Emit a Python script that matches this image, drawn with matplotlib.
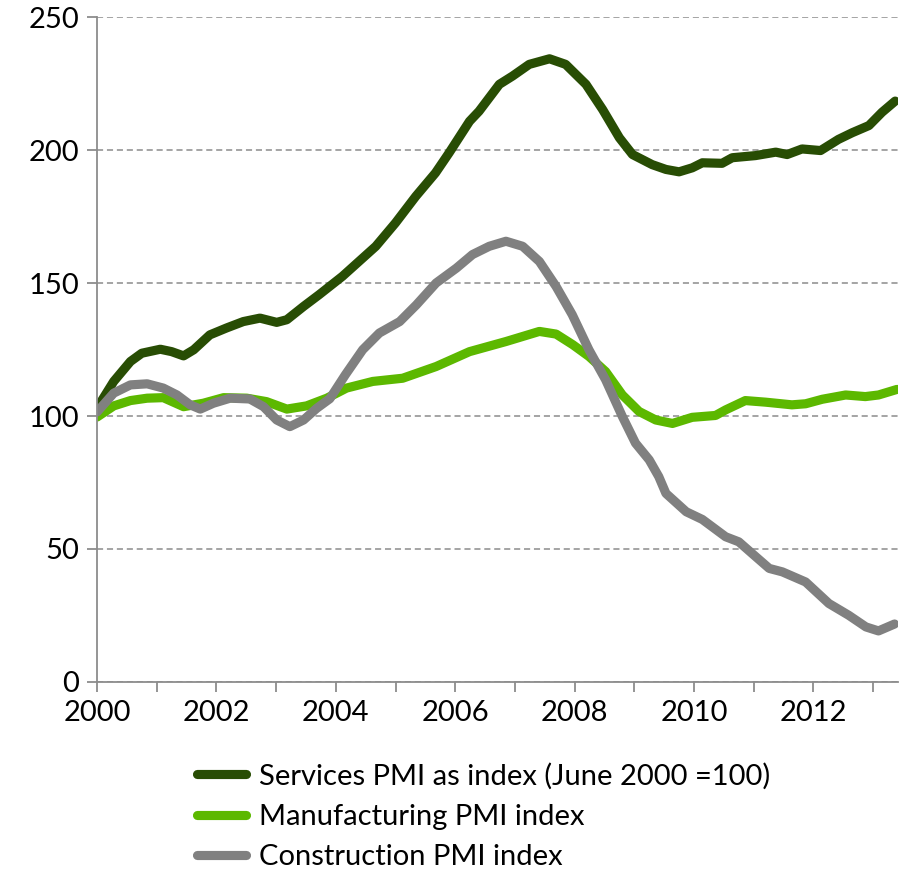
import matplotlib.pyplot as plt
from matplotlib.ticker import MultipleLocator

plt.rcParams['font.family'] = ['Lato', 'DejaVu Sans']

# Services PMI as index (June 2000 = 100)
svc_x = [2000.00, 2000.28, 2000.56, 2000.75, 2001.06, 2001.25, 2001.45, 2001.62,
         2001.89, 2002.17, 2002.45, 2002.73, 2003.01, 2003.18, 2003.46, 2003.72,
         2004.11, 2004.67, 2005.00, 2005.34, 2005.67, 2005.90, 2006.24, 2006.40,
         2006.74, 2006.96, 2007.24, 2007.58, 2007.85, 2008.19, 2008.47, 2008.75,
         2008.97, 2009.30, 2009.53, 2009.75, 2009.97, 2010.14, 2010.47, 2010.64,
         2011.03, 2011.37, 2011.56, 2011.81, 2012.12, 2012.42, 2012.65, 2012.93,
         2013.15, 2013.37]
svc_y = [102.9, 113.0, 120.5, 123.6, 125.1, 124.2, 122.6, 124.9,
         130.5, 133.1, 135.5, 136.8, 135.2, 136.2, 141.2, 145.6,
         152.5, 163.8, 172.6, 182.6, 191.4, 199.0, 210.8, 214.6,
         224.7, 227.8, 232.2, 234.3, 232.2, 224.7, 215.2, 204.6,
         198.3, 194.5, 192.7, 191.8, 193.3, 195.2, 195.0, 197.1,
         197.9, 199.2, 198.3, 200.4, 199.8, 204.0, 206.5, 209.2,
         214.2, 218.4]

# Manufacturing PMI index
mfg_x = [2000.00, 2000.28, 2000.56, 2000.84, 2001.11, 2001.45, 2001.78, 2002.12,
         2002.51, 2002.84, 2003.18, 2003.51, 2003.85, 2004.18, 2004.62, 2005.12,
         2005.68, 2006.24, 2006.85, 2007.41, 2007.69, 2007.97, 2008.24, 2008.52,
         2008.80, 2009.08, 2009.36, 2009.64, 2009.97, 2010.36, 2010.53, 2010.86,
         2011.20, 2011.64, 2011.87, 2012.15, 2012.54, 2012.87, 2013.09, 2013.40]
mfg_y = [99.6, 103.8, 105.8, 106.7, 106.9, 103.5, 104.8, 106.9,
         106.7, 105.4, 102.6, 103.8, 106.7, 110.5, 113.0, 114.2,
         118.6, 124.2, 128.0, 131.8, 130.8, 126.8, 122.4, 116.7,
         107.9, 101.7, 98.5, 97.2, 99.5, 100.2, 102.3, 105.8,
         105.2, 104.2, 104.6, 106.3, 107.9, 107.3, 107.9, 110.0]

# Construction PMI index
con_x = [2000.00, 2000.28, 2000.56, 2000.84, 2001.11, 2001.34, 2001.56, 2001.73,
         2001.95, 2002.23, 2002.56, 2002.79, 2003.01, 2003.23, 2003.46, 2003.68,
         2003.90, 2004.16, 2004.45, 2004.73, 2005.07, 2005.35, 2005.68, 2006.02,
         2006.29, 2006.57, 2006.85, 2007.13, 2007.41, 2007.69, 2007.96, 2008.24,
         2008.52, 2008.80, 2009.02, 2009.25, 2009.41, 2009.53, 2009.87, 2010.14,
         2010.53, 2010.75, 2011.04, 2011.26, 2011.48, 2011.87, 2012.26, 2012.59,
         2012.88, 2013.09, 2013.36]
con_y = [101.5, 108.6, 111.7, 112.1, 110.5, 107.9, 104.2, 102.6,
         104.8, 106.7, 106.4, 103.5, 98.5, 96.0, 98.5, 102.9,
         106.5, 115.5, 124.9, 131.2, 135.5, 141.8, 150.0, 155.6,
         160.7, 163.8, 165.7, 163.8, 158.1, 148.7, 138.1, 124.9,
         113.6, 99.8, 89.8, 83.5, 77.2, 70.9, 64.0, 61.1,
         54.6, 52.7, 47.0, 42.7, 41.4, 37.6, 29.5, 25.1,
         20.7, 19.2, 21.8]

series = [
    (svc_x, svc_y, '#284d04', 'Services PMI as index (June 2000 =100)'),
    (mfg_x, mfg_y, '#5cb800', 'Manufacturing PMI index'),
    (con_x, con_y, '#808080', 'Construction PMI index'),
]

fig = plt.figure(figsize=(9.10, 8.73), dpi=100)
ax = fig.add_axes([0.1066, 0.2188, 0.8804, 0.7617])

for xs, ys, color, label in series:
    ax.plot(xs, ys, color=color, lw=6.6, label=label,
            solid_capstyle='round', solid_joinstyle='round')

ax.set_xlim(2000, 2013.42)
ax.set_ylim(0, 250)
ax.xaxis.set_major_locator(MultipleLocator(2))
ax.xaxis.set_minor_locator(MultipleLocator(1))
ax.yaxis.set_major_locator(MultipleLocator(50))
ax.xaxis.set_major_formatter(plt.FuncFormatter(lambda v, p: f'{int(v)}'))

ax.grid(axis='y', color='#8c8c8c', linestyle=(0, (4, 2.5)), lw=1.1)
ax.set_axisbelow(True)
for side in ['top', 'right']:
    ax.spines[side].set_visible(False)
for side in ['left', 'bottom']:
    ax.spines[side].set_color('#8c8c8c')
    ax.spines[side].set_linewidth(1.3)

ax.tick_params(axis='both', which='both', direction='out', color='#8c8c8c',
               width=1.3, labelsize=21, labelcolor='black')
ax.tick_params(axis='x', which='major', length=7, pad=6)
ax.tick_params(axis='x', which='minor', length=7)
ax.tick_params(axis='y', which='major', length=7, pad=6)

# legend sits under the plot, one series per row
fig.legend(loc='upper left', bbox_to_anchor=(0.216, 0.1265), frameon=False,
           fontsize=21, handlelength=1.7, handletextpad=0.45, labelspacing=0.49,
           borderaxespad=0, borderpad=0)

fig.savefig('out.png', dpi=100)
